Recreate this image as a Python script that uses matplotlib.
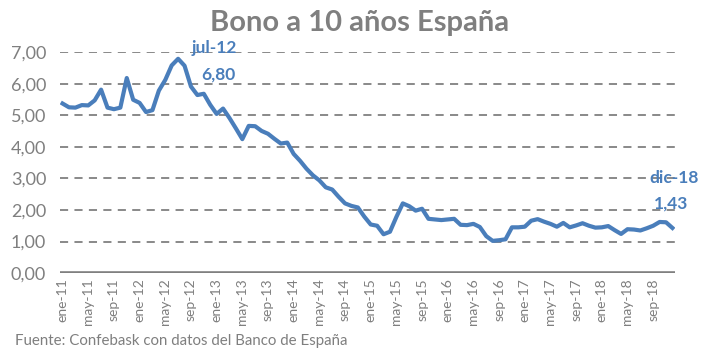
import numpy as np
import matplotlib.pyplot as plt

plt.rcParams['font.family'] = ['Lato', 'DejaVu Sans']

months = ["ene", "feb", "mar", "abr", "may", "jun",
          "jul", "ago", "sep", "oct", "nov", "dic"]
years = ["11", "12", "13", "14", "15", "16", "17", "18"]
labels = [f"{m}-{y}" for y in years for m in months]

yield_10y = [
    5.38, 5.26, 5.25, 5.33, 5.32, 5.48, 5.82, 5.25, 5.20, 5.25, 6.19, 5.50,
    5.40, 5.11, 5.17, 5.79, 6.13, 6.59, 6.80, 6.58, 5.92, 5.65, 5.69, 5.34,
    5.05, 5.22, 4.92, 4.59, 4.25, 4.67, 4.66, 4.51, 4.42, 4.26, 4.11, 4.14,
    3.78, 3.56, 3.31, 3.10, 2.94, 2.72, 2.65, 2.42, 2.21, 2.13, 2.08, 1.79,
    1.54, 1.50, 1.23, 1.31, 1.78, 2.21, 2.12, 1.98, 2.04, 1.72, 1.70, 1.68,
    1.70, 1.72, 1.53, 1.52, 1.56, 1.46, 1.17, 1.02, 1.04, 1.07, 1.45, 1.45,
    1.47, 1.66, 1.71, 1.63, 1.56, 1.47, 1.59, 1.45, 1.51, 1.58, 1.50, 1.44,
    1.45, 1.49, 1.36, 1.24, 1.39, 1.38, 1.35, 1.42, 1.50, 1.62, 1.61, 1.43,
]

blue = "#4a7ebb"
grey = "#808080"

fig = plt.figure(figsize=(7.03, 3.52), dpi=100)
ax = fig.add_axes([60 / 703, 1 - 273 / 352, 615 / 703, (273 - 52.5) / 352])

x = np.arange(len(yield_10y))
ax.plot(x, yield_10y, color=blue, lw=3.0, solid_joinstyle="round", zorder=3)

for v in range(1, 8):
    ax.axhline(v, color=grey, lw=1.3, ls=(0, (4.5, 3.5)), zorder=1)
ax.axhline(0, color=grey, lw=2.6, zorder=2)

ax.set_xlim(-0.4, len(x) - 0.6)
ax.set_ylim(0, 7)
ax.set_yticks(range(8))
ax.set_yticklabels([f"{v},00" for v in range(8)], fontsize=13, color="#7f7f7f")
ticks = x[::4]
ax.set_xticks(ticks)
ax.set_xticklabels([labels[i] for i in ticks], rotation=90, fontsize=10, color="#7f7f7f")
ax.tick_params(length=0, pad=4)
ax.tick_params(axis="y", pad=10)
for s in ax.spines.values():
    s.set_visible(False)

# data labels
i_max = int(np.argmax(yield_10y))
ax.text(i_max + 5.7, 7.14, labels[i_max], color=blue, fontsize=12.5, fontweight="bold",
        ha="center", va="center", clip_on=False)
ax.text(i_max + 6.2, 6.29, f"{yield_10y[i_max]:.2f}".replace(".", ","), color=blue,
        fontsize=12.5, fontweight="bold", ha="center", va="center")
last = len(x) - 1
ax.text(last + 0.3, 3.0, labels[last], color=blue, fontsize=12.5, fontweight="bold",
        ha="center", va="center", clip_on=False)
ax.text(last - 0.2, 2.22, f"{yield_10y[last]:.2f}".replace(".", ","), color=blue,
        fontsize=12.5, fontweight="bold", ha="center", va="center", clip_on=False)

fig.text(360 / 703, 1 - 23 / 352, "Bono a 10 años España", ha="center", va="center",
         fontsize=21, fontweight="bold", color="#7f7f7f")
fig.text(15 / 703, 1 - 341 / 352, "Fuente: Confebask con datos del Banco de España",
         ha="left", va="center", fontsize=10.8, color="#7f7f7f")

fig.savefig("out.png", dpi=100)
